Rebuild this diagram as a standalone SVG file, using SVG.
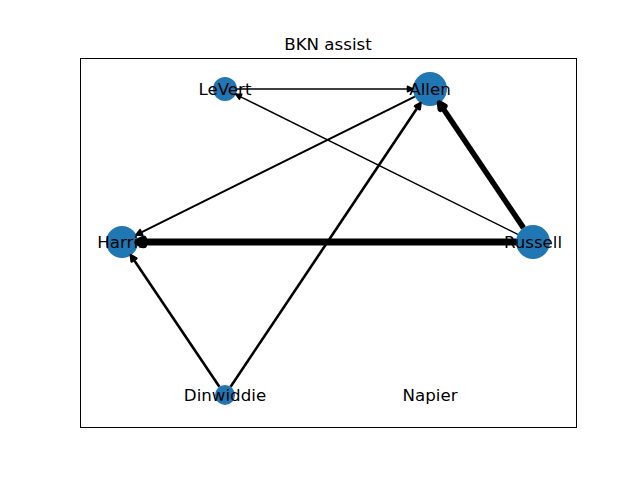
<svg xmlns="http://www.w3.org/2000/svg" width="640" height="480" viewBox="0 0 640 480">
<style>
.node{fill:#1f77b4}
.lbl{font-family:"DejaVu Sans",sans-serif;font-size:16.67px;fill:#000;text-anchor:middle;dominant-baseline:central}
.e{stroke:#000;fill:none;stroke-linecap:butt}
.h{stroke:#000;fill:#000;stroke-linejoin:round}
</style>
<rect width="640" height="480" fill="#fff"/>
<rect x="80.5" y="58.5" width="496" height="369" fill="none" stroke="#000" stroke-width="1"/>
<text x="328" y="44" class="lbl">BKN assist</text>
<g id="node-LeVert"><circle class="node" cx="225" cy="89" r="12"/><text class="lbl" x="225" y="89">LeVert</text></g>
<g id="node-Allen"><circle class="node" cx="430" cy="89" r="17"/><text class="lbl" x="430" y="89">Allen</text></g>
<g id="node-Harris"><circle class="node" cx="122" cy="242" r="16"/><text class="lbl" x="122" y="242">Harris</text></g>
<g id="node-Russell"><circle class="node" cx="533" cy="242" r="17"/><text class="lbl" x="533" y="242">Russell</text></g>
<g id="node-Dinwiddie"><circle class="node" cx="225" cy="395" r="10"/><text class="lbl" x="225" y="395">Dinwiddie</text></g>
<g id="node-Napier"><text class="lbl" x="430" y="395">Napier</text></g>
<g id="edges">
<line class="e" x1="237" y1="89" x2="407.4" y2="89" stroke-width="1.4"/>
<polygon class="h" points="413,89 407.4,86.2 407.4,91.8" stroke-width="1.4"/>
<line class="e" x1="517.8" y1="234.4" x2="240.7" y2="96.8" stroke-width="1.4"/>
<polygon class="h" points="235.7,94.3 241.97,94.29 239.47,99.31" stroke-width="1.4"/>
<line class="e" x1="414.8" y1="96.6" x2="141.3" y2="232.4" stroke-width="2"/>
<polygon class="h" points="136.3,234.9 142.55,234.91 140.05,229.89" stroke-width="2"/>
<line class="e" x1="230.6" y1="386.7" x2="417.4" y2="107.75" stroke-width="2.6"/>
<polygon class="h" points="420.5,103.1 419.7,109.3 415.1,106.2" stroke-width="2.6"/>
<line class="e" x1="219.4" y1="386.7" x2="134" y2="259.95" stroke-width="2.6"/>
<polygon class="h" points="130.9,255.3 136.3,258.4 131.7,261.5" stroke-width="2.6"/>
<line class="e" x1="523.5" y1="227.9" x2="442.6" y2="107.75" stroke-width="5.5"/>
<polygon class="h" points="439.5,103.1 444.9,106.2 440.3,109.3" stroke-width="5.5"/>
<line class="e" x1="516" y1="242" x2="143.6" y2="242" stroke-width="7"/>
<polygon class="h" points="138,242 143.6,239.2 143.6,244.8" stroke-width="7"/>
</g>
</svg>
